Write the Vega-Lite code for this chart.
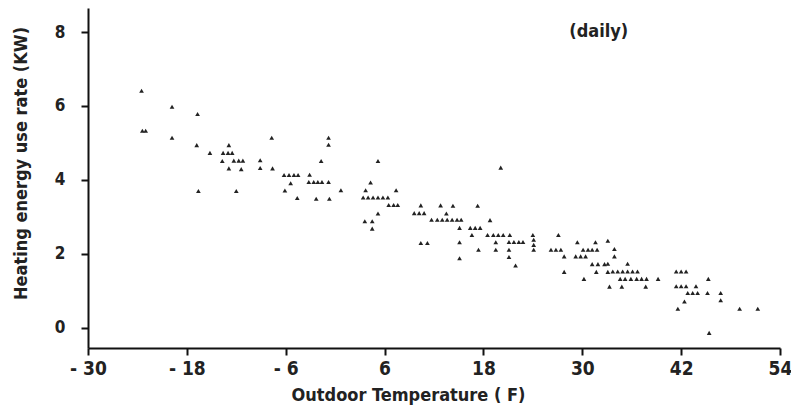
{
  "$schema": "https://vega.github.io/schema/vega-lite/v6.json",
  "width": 692,
  "height": 340,
  "autosize": "none",
  "padding": {"left": 88, "top": 8, "right": 11, "bottom": 72},
  "background": "white",
  "config": {
    "view": {"stroke": null},
    "axis": {
      "grid": false,
      "domainColor": "#111",
      "domainWidth": 2,
      "tickColor": "#111",
      "tickWidth": 2,
      "labelFont": "DejaVu Sans Condensed, DejaVu Sans, sans-serif",
      "labelFontWeight": "bold",
      "labelColor": "#222",
      "titleFont": "DejaVu Sans Condensed, DejaVu Sans, sans-serif",
      "titleFontWeight": "bold",
      "titleColor": "#222"
    }
  },
  "layer": [
    {
      "data": {
        "values": [
          {"temp": -23.5, "rate": 6.41}, {"temp": -19.8, "rate": 5.98}, {"temp": -16.7, "rate": 5.78},
          {"temp": -23.4, "rate": 5.33}, {"temp": -23.0, "rate": 5.33}, {"temp": -19.8, "rate": 5.14},
          {"temp": -16.8, "rate": 4.94}, {"temp": -12.9, "rate": 4.94}, {"temp": -7.7, "rate": 5.14},
          {"temp": -15.2, "rate": 4.73}, {"temp": -13.6, "rate": 4.73}, {"temp": -13.0, "rate": 4.73}, {"temp": -12.5, "rate": 4.73},
          {"temp": -13.7, "rate": 4.51}, {"temp": -12.3, "rate": 4.52}, {"temp": -11.7, "rate": 4.52}, {"temp": -11.2, "rate": 4.52},
          {"temp": -9.1, "rate": 4.53}, {"temp": -12.9, "rate": 4.31}, {"temp": -11.4, "rate": 4.29}, {"temp": -9.1, "rate": 4.32},
          {"temp": -7.6, "rate": 4.31}, {"temp": -6.2, "rate": 4.13}, {"temp": -5.6, "rate": 4.13}, {"temp": -5.0, "rate": 4.13},
          {"temp": -4.5, "rate": 4.13}, {"temp": -5.4, "rate": 3.91}, {"temp": -6.1, "rate": 3.71}, {"temp": -4.6, "rate": 3.51},
          {"temp": -16.6, "rate": 3.70}, {"temp": -12.0, "rate": 3.70},
          {"temp": -0.8, "rate": 5.14}, {"temp": -0.8, "rate": 4.95}, {"temp": -1.7, "rate": 4.51}, {"temp": 5.2, "rate": 4.51},
          {"temp": -3.1, "rate": 4.14}, {"temp": -3.2, "rate": 3.94}, {"temp": -2.6, "rate": 3.94}, {"temp": -2.1, "rate": 3.94},
          {"temp": -1.6, "rate": 3.94}, {"temp": -0.8, "rate": 3.94}, {"temp": 0.7, "rate": 3.72}, {"temp": -2.3, "rate": 3.49},
          {"temp": -0.7, "rate": 3.49}, {"temp": 4.3, "rate": 3.93}, {"temp": 3.7, "rate": 3.72}, {"temp": 7.4, "rate": 3.72},
          {"temp": 3.4, "rate": 3.52}, {"temp": 4.0, "rate": 3.52}, {"temp": 4.6, "rate": 3.52}, {"temp": 5.2, "rate": 3.52},
          {"temp": 5.8, "rate": 3.52}, {"temp": 6.4, "rate": 3.52}, {"temp": 6.5, "rate": 3.32}, {"temp": 7.1, "rate": 3.32},
          {"temp": 7.6, "rate": 3.32}, {"temp": 5.2, "rate": 3.09}, {"temp": 3.6, "rate": 2.88}, {"temp": 4.5, "rate": 2.88},
          {"temp": 4.5, "rate": 2.68}, {"temp": 10.4, "rate": 3.31}, {"temp": 12.8, "rate": 3.31}, {"temp": 14.3, "rate": 3.30},
          {"temp": 13.5, "rate": 3.09}, {"temp": 9.6, "rate": 3.10}, {"temp": 10.2, "rate": 3.10}, {"temp": 10.8, "rate": 3.10},
          {"temp": 11.7, "rate": 2.92}, {"temp": 12.4, "rate": 2.92}, {"temp": 13.0, "rate": 2.92}, {"temp": 13.6, "rate": 2.92},
          {"temp": 14.2, "rate": 2.92}, {"temp": 14.8, "rate": 2.92}, {"temp": 15.3, "rate": 2.92},
          {"temp": 10.4, "rate": 2.29}, {"temp": 11.2, "rate": 2.29}, {"temp": 20.1, "rate": 4.33}, {"temp": 17.3, "rate": 3.30},
          {"temp": 18.8, "rate": 2.91}, {"temp": 15.1, "rate": 2.70}, {"temp": 16.4, "rate": 2.70}, {"temp": 17.0, "rate": 2.70},
          {"temp": 17.6, "rate": 2.70}, {"temp": 16.6, "rate": 2.51}, {"temp": 18.5, "rate": 2.51}, {"temp": 19.2, "rate": 2.51},
          {"temp": 19.8, "rate": 2.51}, {"temp": 20.4, "rate": 2.51}, {"temp": 21.2, "rate": 2.51}, {"temp": 24.0, "rate": 2.51},
          {"temp": 27.1, "rate": 2.51}, {"temp": 15.1, "rate": 2.31}, {"temp": 19.5, "rate": 2.31}, {"temp": 21.1, "rate": 2.32},
          {"temp": 21.7, "rate": 2.32}, {"temp": 22.3, "rate": 2.32}, {"temp": 22.8, "rate": 2.32}, {"temp": 24.1, "rate": 2.38},
          {"temp": 24.1, "rate": 2.24}, {"temp": 29.4, "rate": 2.31}, {"temp": 31.6, "rate": 2.31}, {"temp": 33.1, "rate": 2.35},
          {"temp": 17.4, "rate": 2.11}, {"temp": 19.5, "rate": 2.11}, {"temp": 21.1, "rate": 2.11}, {"temp": 24.1, "rate": 2.11},
          {"temp": 26.2, "rate": 2.11}, {"temp": 26.8, "rate": 2.11}, {"temp": 27.4, "rate": 2.11}, {"temp": 30.1, "rate": 2.11},
          {"temp": 30.7, "rate": 2.11}, {"temp": 31.2, "rate": 2.11}, {"temp": 31.8, "rate": 2.11}, {"temp": 21.1, "rate": 1.91},
          {"temp": 15.1, "rate": 1.88}, {"temp": 27.8, "rate": 1.93}, {"temp": 29.2, "rate": 1.93}, {"temp": 29.8, "rate": 1.93},
          {"temp": 30.4, "rate": 1.93}, {"temp": 21.9, "rate": 1.68}, {"temp": 31.2, "rate": 1.72}, {"temp": 31.9, "rate": 1.72},
          {"temp": 32.7, "rate": 1.72}, {"temp": 31.7, "rate": 1.51}, {"temp": 33.1, "rate": 1.51}, {"temp": 27.8, "rate": 1.51},
          {"temp": 30.2, "rate": 1.32}, {"temp": 33.9, "rate": 2.13}, {"temp": 33.9, "rate": 1.93}, {"temp": 33.1, "rate": 1.73},
          {"temp": 35.5, "rate": 1.73}, {"temp": 33.7, "rate": 1.52}, {"temp": 34.3, "rate": 1.52}, {"temp": 34.9, "rate": 1.52},
          {"temp": 35.5, "rate": 1.52}, {"temp": 36.1, "rate": 1.52}, {"temp": 36.7, "rate": 1.52}, {"temp": 34.6, "rate": 1.32},
          {"temp": 35.2, "rate": 1.32}, {"temp": 35.9, "rate": 1.32}, {"temp": 36.6, "rate": 1.32}, {"temp": 37.2, "rate": 1.32},
          {"temp": 37.8, "rate": 1.32}, {"temp": 39.2, "rate": 1.32}, {"temp": 33.3, "rate": 1.11}, {"temp": 34.8, "rate": 1.11},
          {"temp": 37.7, "rate": 1.11}, {"temp": 41.4, "rate": 1.52}, {"temp": 42.0, "rate": 1.52}, {"temp": 42.6, "rate": 1.52},
          {"temp": 45.3, "rate": 1.32}, {"temp": 41.4, "rate": 1.12}, {"temp": 42.0, "rate": 1.12}, {"temp": 42.6, "rate": 1.12},
          {"temp": 43.8, "rate": 1.12}, {"temp": 42.8, "rate": 0.94}, {"temp": 43.4, "rate": 0.94}, {"temp": 44.0, "rate": 0.94},
          {"temp": 45.2, "rate": 0.94}, {"temp": 46.8, "rate": 0.94}, {"temp": 46.8, "rate": 0.74}, {"temp": 42.4, "rate": 0.71},
          {"temp": 41.6, "rate": 0.51}, {"temp": 49.1, "rate": 0.51}, {"temp": 51.3, "rate": 0.51}, {"temp": 45.4, "rate": -0.14}
        ]
      },
      "mark": {"type": "point", "shape": "triangle-up", "filled": true, "size": 22, "color": "#222", "opacity": 1},
      "encoding": {
        "x": {
          "field": "temp", "type": "quantitative",
          "scale": {"domain": [-30, 54], "nice": false, "zero": false},
          "axis": {
            "values": [-30, -18, -6, 6, 18, 30, 42, 54],
            "labelExpr": "datum.value < 0 ? '- ' + abs(datum.value) : '' + datum.value",
            "title": "Outdoor Temperature ( F)",
            "labelFontSize": 19, "titleFontSize": 18,
            "tickSize": 7, "labelPadding": 4, "titlePadding": 8, "labelFlush": false,
            "titleX": 320
          }
        },
        "y": {
          "field": "rate", "type": "quantitative",
          "scale": {"domain": [-0.55, 8.65], "nice": false, "zero": false},
          "axis": {
            "values": [0, 2, 4, 6, 8],
            "title": "Heating energy use  rate (KW)",
            "labelFontSize": 17, "titleFontSize": 18,
            "tickSize": 7, "labelPadding": 16, "titlePadding": 24, "labelFlush": false,
            "titleY": 155
          }
        }
      }
    },
    {
      "data": {"values": [{"temp": 32, "rate": 8, "label": "(daily)"}]},
      "mark": {"type": "text", "font": "DejaVu Sans Condensed, DejaVu Sans, sans-serif", "fontWeight": "bold", "fontSize": 18, "color": "#222"},
      "encoding": {
        "x": {"field": "temp", "type": "quantitative"},
        "y": {"field": "rate", "type": "quantitative"},
        "text": {"field": "label"}
      }
    }
  ]
}
